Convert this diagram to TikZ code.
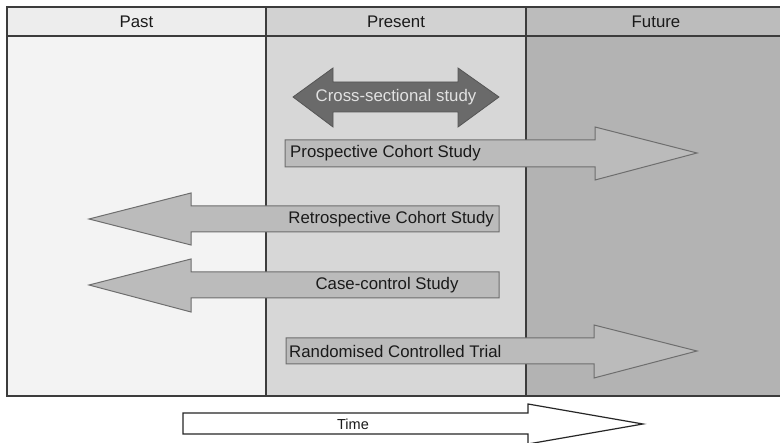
\documentclass[tikz,border=0pt]{standalone}
\usepackage{fontspec}
\setmainfont{Liberation Sans}
\definecolor{pastbody}{HTML}{F3F3F3}
\definecolor{pasthead}{HTML}{EDEDED}
\definecolor{presbody}{HTML}{D7D7D7}
\definecolor{preshead}{HTML}{D2D2D2}
\definecolor{futbody}{HTML}{B3B3B3}
\definecolor{futhead}{HTML}{BCBCBC}
\definecolor{frameline}{HTML}{3C3C3C}
\definecolor{arrowfill}{HTML}{BBBBBB}
\definecolor{arrowline}{HTML}{6E6E6E}
\definecolor{darkarrow}{HTML}{6A6A6A}
\definecolor{lighttext}{HTML}{E2E2E2}
\definecolor{darktext}{HTML}{1A1A1A}
\begin{document}
\begin{tikzpicture}[x=1pt,y=-1pt,
  lbl/.style={font=\fontsize{16.8}{19}\selectfont, text=darktext, inner sep=0pt},
  blockarrow/.style={fill=arrowfill, draw=arrowline, line width=1pt, line join=miter},
  framestyle/.style={draw=frameline, line width=1.4pt}
]
\useasboundingbox (0,0) rectangle (780,443);
\begin{scope}
\clip (0,0) rectangle (780,443);
% column bodies
\fill[pastbody] (7,36) rectangle (266,396);
\fill[presbody] (266,36) rectangle (526,396);
\fill[futbody] (526,36) rectangle (790,396);
% headers
\fill[pasthead] (7,7) rectangle (266,36);
\fill[preshead] (266,7) rectangle (526,36);
\fill[futhead] (526,7) rectangle (790,36);
% frame
\draw[framestyle] (7,7) rectangle (790,396);
\draw[framestyle] (7,36) -- (790,36);
\draw[framestyle] (266,7) -- (266,396);
\draw[framestyle] (526,7) -- (526,396);
\node[lbl] (past) at (136.5,22) {Past};
\node[lbl] (present) at (396,22) {Present};
\node[lbl] (future) at (656,22) {Future};

% cross-sectional
\draw[fill=darkarrow, draw=darkarrow!80!black, line width=0.8pt]
  (293,97) -- (333,68) -- (333,82) -- (458,82) -- (458,68) -- (499,97)
  -- (458,127) -- (458,112) -- (333,112) -- (333,127) -- cycle;
\node[lbl, text=lighttext] (cross) at (396,97) {Cross-sectional study};

% prospective
\draw[blockarrow] (285,140) -- (595,140) -- (595,127) -- (697,153) -- (595,180)
  -- (595,167) -- (285,167) -- cycle;
\node[lbl, anchor=west] (prosp) at (290,153.5) {Prospective Cohort Study};

% retrospective
\draw[blockarrow] (499,206) -- (191,206) -- (191,193) -- (89,219) -- (191,245)
  -- (191,232) -- (499,232) -- cycle;
\node[lbl, anchor=east] (retro) at (494,219.5) {Retrospective Cohort Study};

% case-control
\draw[blockarrow] (499,272) -- (191,272) -- (191,259) -- (89,285) -- (191,312)
  -- (191,298) -- (499,298) -- cycle;
\node[lbl] (casec) at (387,285.5) {Case-control Study};

% RCT
\draw[blockarrow] (286,338) -- (594,338) -- (594,325) -- (697,351) -- (594,378)
  -- (594,364) -- (286,364) -- cycle;
\node[lbl, anchor=west] (rct) at (289,351.5) {Randomised Controlled Trial};

% time
\draw[fill=white, draw=black!85, line width=1.2pt] (183,413) -- (528,413) -- (528,404)
  -- (643,424) -- (528,444) -- (528,434) -- (183,434) -- cycle;
\node[lbl, font=\fontsize{14.5}{16}\selectfont] (time) at (353,424) {Time};
\end{scope}
\end{tikzpicture}
\end{document}
